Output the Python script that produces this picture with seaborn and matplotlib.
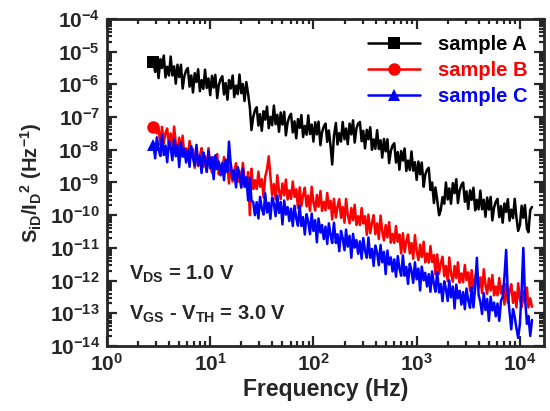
import numpy as np
import pandas as pd
import matplotlib
matplotlib.use("Agg")
import matplotlib.pyplot as plt
from matplotlib.lines import Line2D
import seaborn as sns

# ---- data ----
freq_hz = [2.82, 2.93, 3.04, 3.16, 3.29, 3.41, 3.55, 3.69, 3.83, 3.98,
           4.14, 4.30, 4.47, 4.64, 4.82, 5.01, 5.21, 5.41, 5.62, 5.84,
           6.07, 6.31, 6.56, 6.81, 7.08, 7.36, 7.64, 7.94, 8.25, 8.58,
           8.91, 9.26, 9.62,
           10.0, 10.4, 10.8, 11.2, 11.7, 12.1, 12.6, 13.1, 13.6, 14.1,
           14.7, 15.2, 15.8, 16.5, 17.1, 17.8, 18.5, 19.2, 20.0, 20.7,
           21.5, 22.4, 23.3, 24.2, 25.1, 26.1, 27.1, 28.2, 29.3, 30.4,
           31.6, 32.9, 34.1, 35.5, 36.9, 38.3, 39.8, 41.4, 43.0, 44.7,
           46.4, 48.2, 50.1, 52.1, 54.1, 56.2, 58.4, 60.7, 63.1, 65.6,
           68.1, 70.8, 73.6, 76.4, 79.4, 82.5, 85.8, 89.1, 92.6, 96.2,
           100, 104, 108, 112, 117, 121, 126, 131, 136, 141,
           147, 152, 158, 165, 171, 178, 185, 192, 200, 207,
           215, 224, 233, 242, 251, 261, 271, 282, 293, 304,
           316, 329, 341, 355, 369, 383, 398, 414, 430, 447,
           464, 482, 501, 521, 541, 562, 584, 607, 631, 656,
           681, 708, 736, 764, 794, 825, 858, 891, 926, 962,
           1000, 1040, 1080, 1120, 1170, 1210, 1260, 1310, 1360, 1410,
           1470, 1520, 1580, 1650, 1710, 1780, 1850, 1920, 2000, 2070,
           2150, 2240, 2330, 2420, 2510, 2610, 2710, 2820, 2930, 3040,
           3160, 3290, 3410, 3550, 3690, 3830, 3980, 4140, 4300, 4470,
           4640, 4820, 5010, 5210, 5410, 5620, 5840, 6070, 6310, 6560,
           6810, 7080, 7360, 7640, 7940, 8250, 8580, 8910, 9260, 9620,
           10000, 10400, 10800, 11200, 11700, 12100, 12600, 13100]

# log10 of S_iD/I_D^2 (Hz^-1), one value per frequency above
sample_a_log = [
    -5.31, -5.62, -5.29, -5.81, -5.23, -5.50, -5.12, -5.79, -5.46, -5.73,
    -5.15, -5.73, -5.45, -5.98, -5.40, -5.78, -5.40, -6.13, -5.75, -5.58,
    -5.50, -6.07, -5.73, -6.25, -5.66, -5.93, -5.54, -6.21, -5.87, -6.14,
    -5.55, -6.11, -5.82, -6.33, -5.74, -6.10, -5.71, -6.42, -6.03, -5.84,
    -5.75, -6.31, -5.96, -6.47, -5.87, -6.13, -5.73, -6.39, -6.04, -6.30,
    -5.70, -6.27, -5.99, -6.51, -5.93, -6.30, -6.70, -7.40, -7.00, -6.80,
    -6.70, -7.26, -6.91, -7.42, -6.82, -7.08, -6.68, -7.34, -6.99, -7.25,
    -6.65, -7.22, -6.93, -7.45, -6.86, -7.23, -6.84, -7.56, -7.17, -6.99,
    -6.90, -7.47, -7.13, -7.65, -7.06, -7.33, -6.94, -7.61, -7.27, -7.54,
    -6.95, -7.52, -7.23, -7.75, -7.16, -7.53, -7.14, -7.86, -7.47, -7.29,
    -7.20, -7.76, -7.41, -7.92, -8.45, -7.58, -7.18, -7.84, -7.49, -7.75,
    -7.15, -7.68, -7.35, -7.83, -7.20, -7.53, -7.10, -7.78, -7.35, -7.20,
    -7.15, -7.74, -7.42, -7.96, -7.39, -7.68, -7.31, -8.00, -7.68, -7.97,
    -7.40, -7.98, -7.71, -8.24, -7.67, -8.05, -7.68, -8.41, -8.04, -7.87,
    -7.80, -8.39, -8.07, -8.61, -8.04, -8.33, -7.96, -8.65, -8.33, -8.62,
    -8.05, -8.64, -8.38, -8.92, -8.36, -8.75, -8.39, -9.13, -8.77, -8.61,
    -8.55, -9.23, -9.00, -9.63, -9.15, -9.53, -10.00, -9.85, -9.45, -9.65,
    -9.00, -9.52, -9.18, -9.65, -9.02, -9.33, -8.90, -9.63, -9.25, -9.08,
    -9.00, -9.59, -9.27, -9.81, -9.24, -9.53, -9.16, -9.85, -9.53, -9.82,
    -9.25, -9.82, -9.53, -10.05, -9.46, -9.83, -9.44, -10.16, -9.77, -9.59,
    -9.50, -10.06, -9.72, -10.23, -9.64, -9.90, -9.51, -10.17, -9.83, -10.09,
    -9.50, -10.07, -10.48, -10.30, -9.71, -10.08, -9.69, -10.41, -10.52, -9.84,
    -9.75]

sample_b_log = [
    -7.30, -7.35, -7.50, -7.35, -7.85, -7.30, -7.80, -7.48, -7.35, -7.83,
    -7.50, -8.00, -7.29, -7.79, -8.08, -7.63, -8.02, -7.57, -8.21, -7.96,
    -8.25, -7.73, -8.20, -7.98, -8.55, -7.93, -8.50, -8.18, -7.95, -8.53,
    -8.20, -8.68, -7.95, -8.43, -8.70, -8.23, -8.60, -8.13, -8.75, -8.48,
    -8.75, -8.22, -8.69, -8.46, -9.03, -8.40, -8.97, -8.64, -8.41, -8.98,
    -8.65, -9.13, -8.40, -8.88, -9.15, -8.68, -10.00, -8.58, -9.20, -8.93,
    -9.20, -8.67, -9.13, -8.90, -9.46, -8.83, -8.60, -8.20, -8.82, -9.39,
    -9.05, -9.52, -8.78, -9.25, -9.51, -9.03, -9.39, -8.91, -9.52, -9.24,
    -9.50, -8.97, -9.44, -9.21, -9.78, -9.15, -9.72, -9.39, -9.16, -9.73,
    -9.40, -9.87, -9.13, -9.60, -9.86, -9.38, -9.74, -9.26, -9.87, -9.59,
    -9.85, -9.32, -9.79, -9.56, -10.13, -9.50, -10.07, -9.74, -9.51, -10.08,
    -9.75, -10.23, -9.50, -9.98, -10.25, -9.78, -10.15, -9.68, -10.30, -10.03,
    -10.30, -9.78, -10.25, -10.03, -10.60, -9.98, -10.55, -10.23, -10.00, -10.58,
    -10.25, -10.73, -10.01, -10.49, -10.77, -10.30, -10.68, -10.21, -10.84, -10.57,
    -10.85, -10.33, -10.81, -10.59, -11.17, -10.55, -11.13, -10.81, -10.59, -11.17,
    -10.85, -11.33, -10.61, -11.09, -11.37, -10.90, -11.28, -10.81, -11.44, -11.17,
    -11.45, -10.94, -11.43, -11.22, -11.81, -11.20, -11.79, -11.48, -11.27, -11.86,
    -11.55, -12.02, -11.29, -11.76, -12.03, -11.55, -11.92, -11.44, -12.06, -11.78,
    -12.05, -11.52, -11.98, -11.75, -12.31, -11.68, -12.24, -11.91, -11.67, -12.24,
    -11.90, -12.38, -11.65, -12.13, -12.40, -11.93, -12.30, -11.83, -12.45, -12.18,
    -12.45, -11.92, -12.39, -12.16, -12.73, -12.10, -12.67, -12.34, -12.11, -12.68,
    -12.35, -12.82, -12.08, -12.55, -12.81, -12.33, -12.69, -12.21, -12.82, -12.54,
    -12.80]

sample_c_log = [
    -7.85, -8.26, -7.62, -7.98, -8.19, -7.55, -8.16, -7.87, -8.38, -7.74,
    -7.95, -8.32, -7.68, -8.20, -7.86, -8.53, -7.79, -8.21, -7.97, -8.39,
    -8.00, -8.52, -7.89, -8.26, -8.48, -7.85, -8.47, -8.19, -8.71, -8.08,
    -8.30, -8.67, -8.04, -8.56, -8.23, -8.90, -8.17, -8.59, -8.36, -8.78,
    -8.40, -8.93, -8.30, -8.68, -7.75, -8.45, -8.90, -8.63, -9.15, -8.53,
    -8.75, -9.16, -8.57, -9.13, -8.84, -9.55, -8.85, -9.55, -9.60, -10.00,
    -9.60, -10.10, -9.44, -9.79, -9.98, -9.33, -9.92, -9.62, -10.11, -9.46,
    -9.65, -10.03, -9.40, -9.93, -9.60, -10.28, -9.55, -9.98, -9.75, -10.18,
    -9.80, -10.33, -9.71, -10.09, -10.32, -9.70, -10.33, -10.06, -10.59, -9.97,
    -10.20, -10.58, -9.95, -10.48, -10.15, -10.83, -10.10, -10.53, -10.30, -10.73,
    -10.35, -10.88, -10.25, -10.63, -10.85, -10.23, -10.85, -10.58, -11.10, -10.48,
    -10.70, -11.07, -10.44, -10.96, -10.63, -11.30, -10.57, -10.99, -10.76, -11.18,
    -10.80, -11.33, -10.70, -11.08, -11.30, -10.68, -11.30, -11.03, -11.55, -10.93,
    -11.15, -11.53, -10.91, -11.44, -11.12, -11.80, -11.08, -11.51, -11.29, -11.72,
    -11.35, -11.88, -11.25, -11.63, -11.85, -11.23, -11.85, -11.58, -12.10, -11.48,
    -11.70, -12.07, -11.44, -11.96, -11.63, -12.30, -11.57, -11.99, -11.76, -12.18,
    -11.80, -12.34, -11.72, -12.11, -12.34, -11.73, -12.36, -12.10, -12.63, -12.02,
    -12.25, -12.62, -11.99, -12.51, -12.18, -12.85, -12.12, -12.54, -12.31, -12.73,
    -12.35, -12.87, -12.24, -12.61, -12.83, -12.20, -12.82, -12.20, -11.30, -12.43,
    -12.65, -13.02, -12.38, -12.90, -12.56, -13.23, -12.49, -12.91, -12.67, -13.09,
    -12.70, -13.23, -12.61, -12.50, -11.90, -11.06, -12.40, -12.96, -13.49, -12.87,
    -13.10, -13.46, -13.75, -13.33, -12.30, -11.00, -12.50, -13.32, -13.08, -13.69,
    -13.20]

series_names = ["sample A", "sample B", "sample C"]
series_colors = ["#000000", "#ff0000", "#0000ff"]
series_markers = ["s", "o", "^"]
y_tick_exponents = list(range(-14, -3))
x_tick_exponents = [0, 1, 2, 3, 4]

# ---- style ----
sns.set_style("ticks")
plt.rcParams["font.family"] = ["Liberation Sans", "DejaVu Sans"]
plt.rcParams["font.weight"] = "bold"
plt.rcParams["mathtext.fontset"] = "custom"
plt.rcParams["mathtext.rm"] = "Liberation Sans:bold"
plt.rcParams["mathtext.it"] = "Liberation Sans:bold"
plt.rcParams["mathtext.bf"] = "Liberation Sans:bold"
plt.rcParams["mathtext.default"] = "rm"

fig = plt.figure(figsize=(5.5, 4.11), dpi=100)
ax = fig.add_axes([0.1945, 0.158, 0.794, 0.796])

frames = []
for name, vals in zip(series_names, [sample_a_log, sample_b_log, sample_c_log]):
    frames.append(pd.DataFrame({"freq": freq_hz,
                                "psd": np.power(10.0, np.array(vals)),
                                "sample": name}))
df = pd.concat(frames, ignore_index=True)

for name, col, mk in zip(series_names, series_colors, series_markers):
    sub = df[df["sample"] == name]
    sns.lineplot(data=sub, x="freq", y="psd", ax=ax, color=col, lw=1.8,
                 marker=mk, markersize=9, markevery=[0], markeredgewidth=0,
                 sort=False, estimator=None, legend=False)

ax.set_xscale("log")
ax.set_yscale("log")
ax.set_xlim(1, 1.7e4)
ax.set_ylim(1e-14, 1e-4)

ax.set_xticks([10.0 ** e for e in x_tick_exponents])
ax.set_xticklabels([f"$10^{{{e}}}$" for e in x_tick_exponents])
ax.set_yticks([10.0 ** e for e in y_tick_exponents])
ax.set_yticklabels([f"$10^{{{e}}}$" for e in y_tick_exponents])
ax.yaxis.set_minor_locator(matplotlib.ticker.LogLocator(base=10, subs=np.arange(2, 10), numticks=30))
ax.xaxis.set_minor_locator(matplotlib.ticker.LogLocator(base=10, subs=np.arange(2, 10), numticks=30))
ax.yaxis.set_minor_formatter(matplotlib.ticker.NullFormatter())
ax.xaxis.set_minor_formatter(matplotlib.ticker.NullFormatter())

ax.tick_params(which="both", direction="in", top=True, right=True, width=1.6)
ax.tick_params(which="major", length=7, labelsize=15, pad=5)
ax.tick_params(which="minor", length=3.5)
for s in ax.spines.values():
    s.set_linewidth(2)
    s.set_visible(True)

ax.set_xlabel("Frequency (Hz)", fontsize=16.5, fontweight="bold", labelpad=2)
ax.set_ylabel("S$_{iD}$/I$_D$$^{2}$ (Hz$^{-1}$)", fontsize=14.5, fontweight="bold", labelpad=4)

handles = [Line2D([0], [0], color=c, lw=1.8, marker=m, markersize=9, markeredgewidth=0)
           for c, m in zip(series_colors, series_markers)]
leg = ax.legend(handles, series_names, loc="upper right", frameon=False,
                handlelength=2.6, handletextpad=0.9,
                labelspacing=0.35, borderaxespad=0.4,
                prop={"weight": "bold", "size": 14.5})
for t, c in zip(leg.get_texts(), series_colors):
    t.set_color(c)

ax.text(0.05, 0.202, "V$_{DS}$ = 1.0 V", transform=ax.transAxes,
        fontsize=14.5, fontweight="bold", va="baseline")
ax.text(0.05, 0.08, "V$_{GS}$ - V$_{TH}$ = 3.0 V", transform=ax.transAxes,
        fontsize=14.5, fontweight="bold", va="baseline")

fig.savefig("out.png", dpi=100)
